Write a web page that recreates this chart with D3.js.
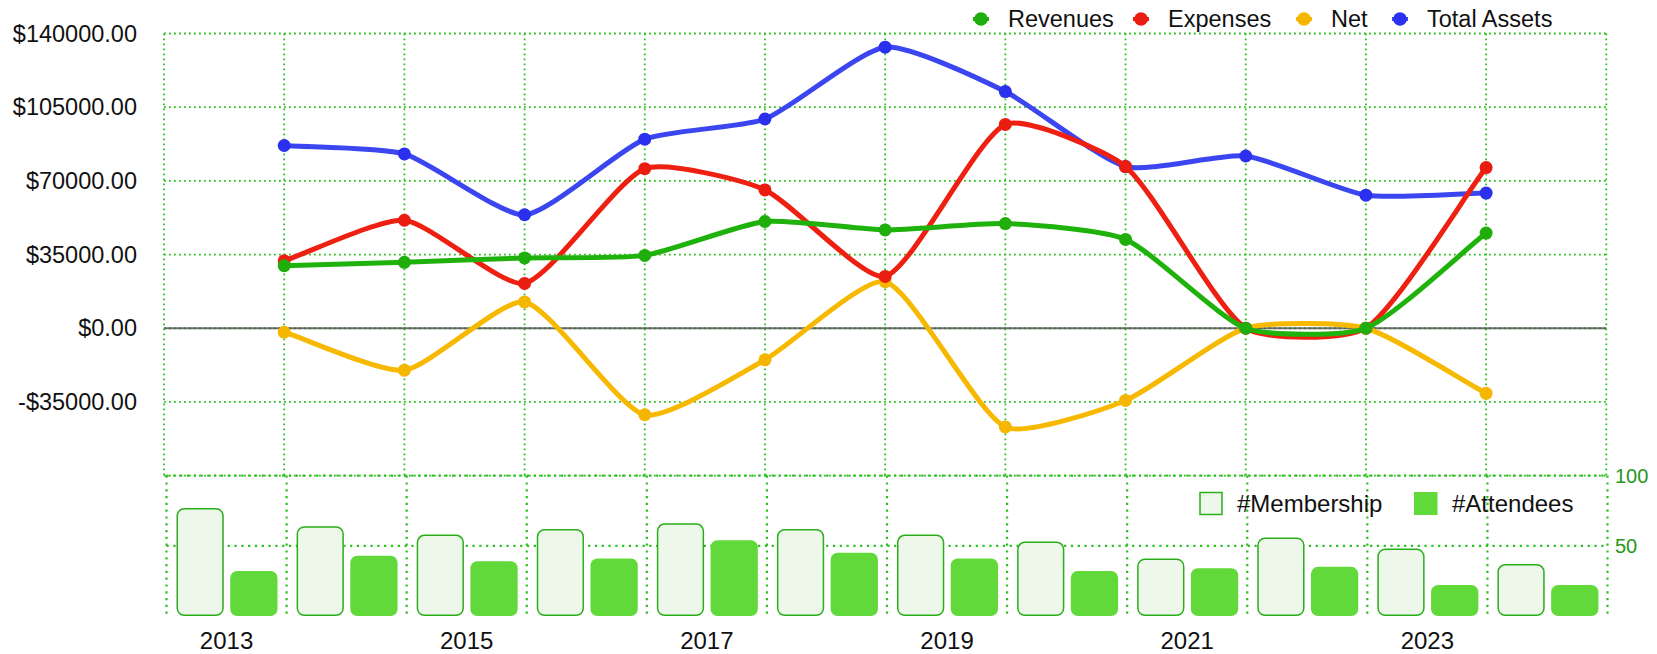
<!DOCTYPE html>
<html><head><meta charset="utf-8">
<script src="https://cdn.jsdelivr.net/npm/d3@7"></script>
<style>
body{margin:0;background:#fff}
svg{display:block}
text{font-family:Helvetica,"Liberation Sans",Arial,sans-serif;fill:#111}
</style>
</head><body>
<svg id="c" width="1657" height="654"></svg>
<script>
// ---------- data ----------
const years = [2013,2014,2015,2016,2017,2018,2019,2020,2021,2022,2023];
const revenues    = [29700, 31300, 33400, 34600, 50700, 46700, 49700, 42200, 0, 0, 45200];
const expenses    = [32000, 51300, 21300, 75800, 65700, 24600, 96800, 76800, 0, 0, 76300];
const net         = [-1900, -19900, 12500, -41100, -15000, 22100, -46900, -34300, 0, 0, -30900];
const totalAssets = [86800, 82800, 53900, 89800, 99400, 133500, 112400, 76800, 81800, 63200, 64200];
const seriesNames = ["Revenues","Expenses","Net","Total Assets"];
const yTicks = [140000,105000,70000,35000,0,-35000];

const barYears   = [2013,2014,2015,2016,2017,2018,2019,2020,2021,2022,2023,2024];
const membership = [77, 64, 58, 62, 66, 62, 58, 53, 41, 56, 48, 37];
const attendees  = [32, 43, 39, 41, 54, 45, 41, 32, 34, 35, 22, 22];
const barLabelYears = [2013,2015,2017,2019,2021,2023];
const barTicks = [50,100];

// ---------- styles ----------
const colors = {"Revenues":"#20b20c","Expenses":"#ee2012","Net":"#f7b900","Total Assets":"#3c46f0"};
const pointColors = {"Revenues":"#1fae0b","Expenses":"#ea1d10","Net":"#f5b600","Total Assets":"#2a30ee"};
const gridColor = "#2cc01e";

const svg = d3.select("#c");

// ---------- top chart scales ----------
const xTop = d3.scaleLinear().domain([2012,2024]).range([164,1606.3]);
const yTop = d3.scaleLinear().domain([-70000,140000]).range([475.6,33.5]);

const gTop = svg.append("g");
gTop.selectAll("line.vg").data(d3.range(2012,2025)).join("line")
  .attr("x1",d=>xTop(d)).attr("x2",d=>xTop(d))
  .attr("y1",yTop(140000)).attr("y2",yTop(-70000))
  .attr("stroke",gridColor).attr("stroke-width",1.8).attr("stroke-dasharray","1.8,3.2");
gTop.selectAll("line.hg").data(d3.range(-70000,140001,35000)).join("line")
  .attr("x1",xTop(2012)).attr("x2",xTop(2024))
  .attr("y1",d=>yTop(d)).attr("y2",d=>yTop(d))
  .attr("stroke",gridColor).attr("stroke-width",1.8).attr("stroke-dasharray","1.8,3.2");
gTop.append("line").attr("x1",xTop(2012)).attr("x2",xTop(2024))
  .attr("y1",yTop(0)).attr("y2",yTop(0))
  .attr("stroke","#555").attr("stroke-opacity",0.85).attr("stroke-width",2);
const fmt = v => (v<0?"-$":"$")+Math.abs(v).toFixed(2);
gTop.selectAll("text.yl").data(yTicks).join("text")
  .attr("x",137).attr("y",d=>yTop(d)).attr("dy","0.35em")
  .attr("text-anchor","end").style("font-size","23.5px").text(fmt);

// Chart.js-like spline curve
function splineCurve(tension){
  return function(context){
    let pts=[];
    return {
      areaStart(){}, areaEnd(){},
      lineStart(){pts=[];},
      point(x,y){pts.push([+x,+y]);},
      lineEnd(){
        const n=pts.length; if(!n) return;
        const cps = pts.map((p,i)=>{
          const prev=pts[i-1]||p, next=pts[i+1]||p;
          const d01=Math.hypot(p[0]-prev[0],p[1]-prev[1]);
          const d12=Math.hypot(next[0]-p[0],next[1]-p[1]);
          let s01=d01/(d01+d12), s12=d12/(d01+d12);
          if(isNaN(s01)) s01=0; if(isNaN(s12)) s12=0;
          const fa=tension*s01, fb=tension*s12;
          return {prev:[p[0]-fa*(next[0]-prev[0]), p[1]-fa*(next[1]-prev[1])],
                  next:[p[0]+fb*(next[0]-prev[0]), p[1]+fb*(next[1]-prev[1])]};
        });
        context.moveTo(pts[0][0],pts[0][1]);
        for(let i=1;i<n;i++){
          context.bezierCurveTo(cps[i-1].next[0],cps[i-1].next[1],cps[i].prev[0],cps[i].prev[1],pts[i][0],pts[i][1]);
        }
      }
    };
  };
}

const seriesData = {"Revenues":revenues,"Expenses":expenses,"Net":net,"Total Assets":totalAssets};
const line = d3.line().x(d=>xTop(d[0])).y(d=>yTop(d[1])).curve(splineCurve(0.2));
seriesNames.slice().reverse().forEach(name=>{
  const pts = years.map((y,i)=>[y,seriesData[name][i]]);
  const g = gTop.append("g");
  g.append("path").attr("d",line(pts)).attr("fill","none")
    .attr("stroke",colors[name]).attr("stroke-width",5).attr("stroke-linejoin","round");
  g.selectAll("circle").data(pts).join("circle")
    .attr("cx",d=>xTop(d[0])).attr("cy",d=>yTop(d[1])).attr("r",6.5)
    .attr("fill",pointColors[name]);
});

// top legend
const legX = [981,1141,1304,1400];
const gLeg = svg.append("g");
seriesNames.forEach((name,i)=>{
  const cx=legX[i], cy=19;
  gLeg.append("line").attr("x1",cx-8).attr("x2",cx+8).attr("y1",cy).attr("y2",cy)
    .attr("stroke",colors[name]).attr("stroke-width",4);
  gLeg.append("circle").attr("cx",cx).attr("cy",cy).attr("r",6.8).attr("fill",pointColors[name]);
  gLeg.append("text").attr("x",cx+27).attr("y",cy).attr("dy","0.35em")
    .style("font-size","23.5px").text(name);
});

// ---------- bottom chart ----------
const xBot = d3.scaleBand().domain(barYears).range([166.5,1607.5]);
const xInner = d3.scaleBand().domain(["m","a"]).range([10,111]).paddingInner(0.12);
const yBot = d3.scaleLinear().domain([0,100]).range([616,475.6]);
const gBot = svg.append("g");

gBot.selectAll("line.bv").data(d3.range(0,barYears.length+1)).join("line")
  .attr("x1",i=>166.5+i*xBot.step()).attr("x2",i=>166.5+i*xBot.step())
  .attr("y1",yBot(100)).attr("y2",yBot(0))
  .attr("stroke",gridColor).attr("stroke-width",2.2).attr("stroke-dasharray","2.2,4.6");
gBot.selectAll("line.bh").data(barTicks).join("line")
  .attr("x1",xBot.range()[0]).attr("x2",xBot.range()[1])
  .attr("y1",d=>yBot(d)).attr("y2",d=>yBot(d))
  .attr("stroke",gridColor).attr("stroke-width",2.2).attr("stroke-dasharray","2.2,4.6");
gBot.selectAll("text.rl").data(barTicks).join("text")
  .attr("x",1615).attr("y",d=>yBot(d)).attr("dy","0.35em")
  .style("font-size","20px").style("fill","#27961b").text(d=>d);

barYears.forEach((yr,i)=>{
  const x0 = xBot(yr);
  gBot.append("rect")
    .attr("x",x0+xInner("m")+0.75).attr("y",yBot(membership[i])+0.75)
    .attr("width",xInner.bandwidth()-1.5).attr("height",yBot(0)-yBot(membership[i])-1.5)
    .attr("rx",7).attr("ry",7)
    .attr("fill","#edf8eb").attr("stroke","#2aae1a").attr("stroke-width",1.5);
  gBot.append("rect")
    .attr("x",x0+xInner("a")).attr("y",yBot(attendees[i]))
    .attr("width",xInner.bandwidth()).attr("height",yBot(0)-yBot(attendees[i]))
    .attr("rx",7).attr("ry",7)
    .attr("fill","#62d93a");
});

gBot.selectAll("text.xl").data(barLabelYears).join("text")
  .attr("x",d=>xBot(d)+xBot.bandwidth()/2).attr("y",649)
  .attr("text-anchor","middle").style("font-size","24px").text(d=>d);

gBot.append("rect").attr("x",1200).attr("y",492.5).attr("width",22).attr("height",22)
  .attr("fill","#edf8eb").attr("stroke","#2aae1a").attr("stroke-width",1.5);
gBot.append("text").attr("x",1237).attr("y",504).attr("dy","0.35em")
  .style("font-size","24px").text("#Membership");
gBot.append("rect").attr("x",1414).attr("y",492).attr("width",23.5).attr("height",23)
  .attr("fill","#62d93a");
gBot.append("text").attr("x",1452).attr("y",504).attr("dy","0.35em")
  .style("font-size","24px").text("#Attendees");
</script>
</body></html>
